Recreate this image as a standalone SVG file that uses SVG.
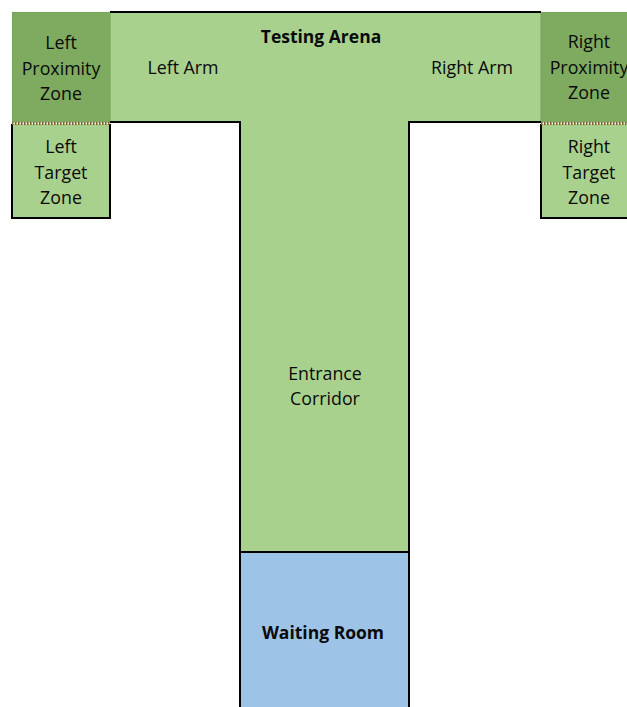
<svg xmlns="http://www.w3.org/2000/svg" width="627" height="707" viewBox="0 0 627 707">
<defs>
<style>
.lg{fill:#a9d18e}
.dg{fill:#7fab60;stroke:#77a35a;stroke-width:1}
.ln{fill:none;stroke:#000;stroke-width:2}
.sep{stroke:#8b5a2b;stroke-width:3;stroke-dasharray:1.5 1.5}
text{font-family:"Open Sans","Liberation Sans",sans-serif;font-size:17.8px;fill:#0a0a0a;text-anchor:middle}
.b{font-weight:bold;font-size:17.5px}
</style>
</defs>
<rect width="627" height="707" fill="#fff"/>
<g id="testing-arena">
<rect class="lg" x="12" y="12" width="620" height="110"/>
<text class="b" x="321" y="43">Testing Arena</text>
</g>
<g id="corridor">
<rect class="lg" x="240" y="121" width="169" height="432"/>
<text x="325" y="380">Entrance</text>
<text x="325" y="405">Corridor</text>
</g>
<g id="left-arm"><text x="183" y="74">Left Arm</text></g>
<g id="right-arm"><text x="472" y="74">Right Arm</text></g>
<g id="left-proximity">
<rect class="dg" x="12.5" y="12.5" width="97.5" height="109.5"/>
<text x="61" y="49">Left</text>
<text x="61" y="75">Proximity</text>
<text x="61" y="100">Zone</text>
</g>
<g id="right-proximity">
<rect class="dg" x="541" y="12.5" width="98" height="109.5"/>
<text x="589" y="48">Right</text>
<text x="589" y="74">Proximity</text>
<text x="589" y="99">Zone</text>
</g>
<g id="left-target">
<rect class="lg" x="12" y="124" width="98" height="94"/>
<path class="ln" d="M12,124V218H110V124"/>
<text x="61" y="153">Left</text>
<text x="61" y="179">Target</text>
<text x="61" y="204">Zone</text>
</g>
<g id="right-target">
<rect class="lg" x="541" y="124" width="90" height="94"/>
<path class="ln" d="M541,124V218H630"/>
<text x="589" y="153">Right</text>
<text x="589" y="179">Target</text>
<text x="589" y="204">Zone</text>
</g>
<g id="waiting-room">
<rect fill="#9dc3e6" x="240" y="552" width="169" height="160"/>
<text class="b" x="323" y="639">Waiting Room</text>
</g>
<g id="walls">
<path class="ln" d="M110,12H541"/>
<path class="ln" d="M110,122H240V712"/>
<path class="ln" d="M541,122H409V712"/>
<path class="ln" d="M240,552H409"/>
<path class="sep" d="M12,123.5H110"/>
<path class="sep" d="M541,123.5H630"/>
</g>
</svg>
